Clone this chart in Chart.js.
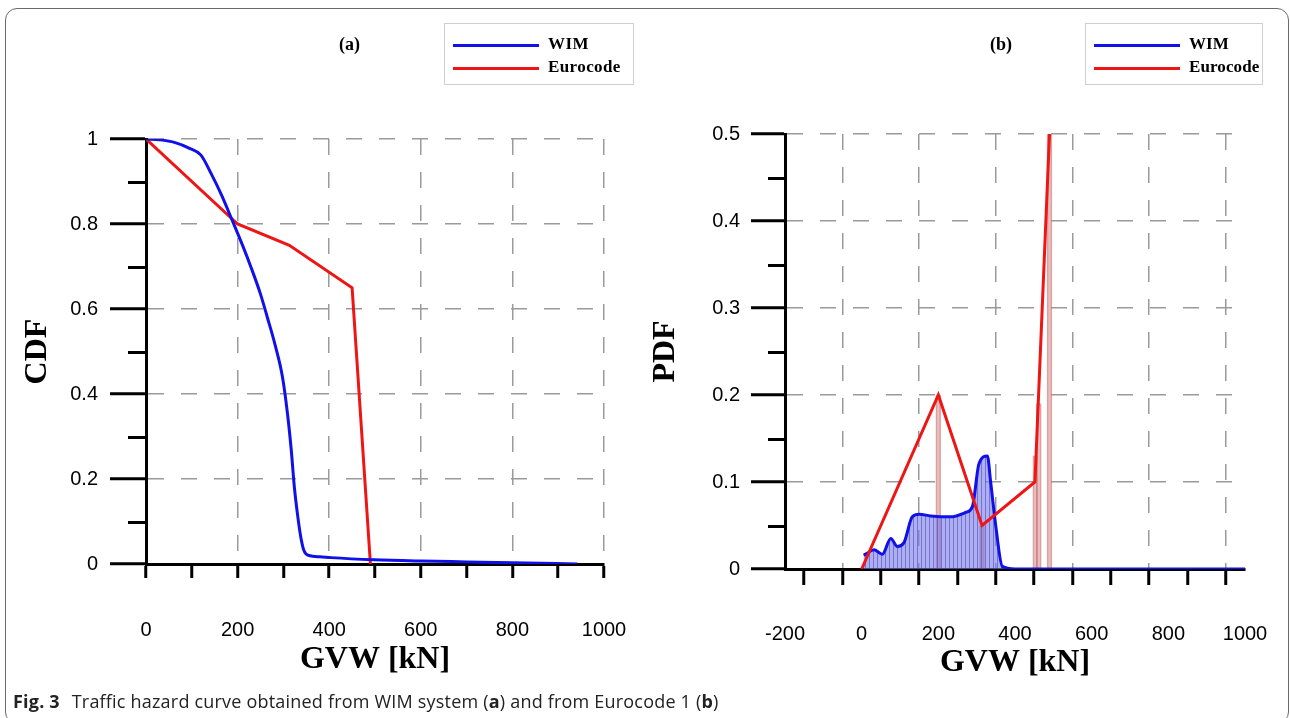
<!DOCTYPE html>
<html>
<head>
<meta charset="utf-8">
<script src="https://cdn.jsdelivr.net/npm/chart.js@4.4.1/dist/chart.umd.min.js"></script>
<style>
  html, body { margin: 0; padding: 0; background: #fff; }
  body { width: 1290px; height: 718px; position: relative; overflow: hidden; }
  .frame { position: absolute; left: 5px; top: 8px; width: 1284px; height: 716px;
           border: 1.5px solid #6a6a6a; border-radius: 12px; box-sizing: border-box; }
  canvas { position: absolute; top: 0; }
  .ptitle { position: absolute; top: 34px; font: bold 18px "Liberation Serif", serif; color: #000; }
  .legend { position: absolute; top: 23px; height: 62px; border: 1px solid #cfcfcf; box-sizing: border-box; background: #fff; }
  .legend .row { position: absolute; left: 8px; height: 20px; }
  .legend .ln { position: absolute; left: 0; top: 9px; width: 86px; height: 3px; }
  .legend .tx { position: absolute; left: 95px; top: -1px; font: bold 17px "Liberation Serif", serif; color: #000; white-space: nowrap; letter-spacing: 0.4px; }
  .legend.narrow .tx { letter-spacing: 0.1px; }
  .caption { position: absolute; left: 13px; top: 689px; font: 18px "Open Sans", sans-serif; color: #222; white-space: nowrap; letter-spacing: 0.2px; }
  .caption b { font-weight: bold; margin-right: 7px; }
</style>
</head>
<body>
<div class="frame"></div>
<canvas id="cdfChart" width="645" height="690" style="left:0"></canvas>
<canvas id="pdfChart" width="645" height="690" style="left:645px"></canvas>

<div class="ptitle" style="left:339px">(a)</div>
<div class="ptitle" style="left:990px">(b)</div>

<div class="legend" style="left:444px;width:190px">
  <div class="row" style="top:11px"><div class="ln" style="background:#1010e8"></div><div class="tx">WIM</div></div>
  <div class="row" style="top:34px"><div class="ln" style="background:#ee1515"></div><div class="tx">Eurocode</div></div>
</div>
<div class="legend narrow" style="left:1085px;width:178px">
  <div class="row" style="top:11px"><div class="ln" style="background:#1010e8"></div><div class="tx">WIM</div></div>
  <div class="row" style="top:34px"><div class="ln" style="background:#ee1515"></div><div class="tx">Eurocode</div></div>
</div>

<div class="caption"><b>Fig. 3</b> Traffic hazard curve obtained from WIM system (<b style="margin:0">a</b>) and from Eurocode 1 (<b style="margin:0">b</b>)</div>

<script>
// ---- data (a) CDF ----
var wimCdfX = [0, 30, 62, 95, 120, 142, 165, 185, 210, 229, 250, 265, 282, 298, 309, 317, 324, 331, 338, 345, 356, 380, 404, 498, 600, 700, 800, 942];
var wimCdfY = [1, 0.998, 0.992, 0.978, 0.962, 0.919, 0.868, 0.817, 0.752, 0.699, 0.635, 0.58, 0.515, 0.44, 0.353, 0.27, 0.18, 0.115, 0.063, 0.031, 0.02, 0.017, 0.015, 0.01, 0.007, 0.005, 0.003, 0];
var euroCdfX = [0, 200, 313, 450, 490];
var euroCdfY = [1, 0.8, 0.75, 0.65, 0];

// ---- data (b) PDF ----
var wimPdfX = [5, 10, 32, 54, 76, 93, 110, 132, 150, 180, 232, 271, 289, 306, 328, 336, 350, 367, 400, 600, 800, 1000];
var wimPdfY = [0.016, 0.017, 0.022, 0.017, 0.035, 0.026, 0.030, 0.060, 0.063, 0.061, 0.060, 0.065, 0.072, 0.121, 0.130, 0.102, 0.049, 0.003, 0, 0, 0, 0];
var euroPdfX = [0, 200, 314, 452, 490];
var euroPdfY = [0, 0.2, 0.05, 0.1, 0.5];
var euroBarX = [200, 314, 453, 462, 490];
var euroBarY = [0.2, 0.05, 0.13, 0.19, 0.5];

var cdfYTicks = ['0', '0.2', '0.4', '0.6', '0.8', '1'];
var gvwTicks = ['-200', '0', '200', '400', '600', '800', '1000'];

function pts(xs, ys) {
    return xs.map(function (x, i) { return { x: x, y: ys[i] }; });
}

var BLUE = '#1010e8';
var RED = '#ee1515';
var GRID = '#9a9a9a';
var DASH = [16, 17];
var tickFont = { family: '"Liberation Sans", Arial, sans-serif', size: 20 };
var titleFont = { family: '"Liberation Serif", "Times New Roman", serif', size: 32, weight: 'bold' };

// short minor tick marks on the y axis
var minorTicks = {
    id: 'minorTicks',
    afterDraw: function (chart, args, opts) {
        var s = chart.scales.y;
        var ctx = chart.ctx;
        ctx.save();
        ctx.strokeStyle = '#000';
        ctx.lineWidth = 3;
        s.ticks.forEach(function (t) {
            if (opts.isMinor(t.value)) {
                var py = Math.round(s.getPixelForValue(t.value)) + 0.5;
                ctx.beginPath();
                ctx.moveTo(s.right - opts.length, py);
                ctx.lineTo(s.right, py);
                ctx.stroke();
            }
        });
        ctx.restore();
    }
};

function xAxis(min, height, pad, tickLen, titlePad) {
    return {
        type: 'linear', min: min, max: 1000, offset: false,
        afterFit: function (s) { s.height = height; s.paddingLeft = 0; s.paddingRight = 0; },
        border: { display: true, color: '#000', width: 3, dash: DASH },
        grid: {
            color: function (c) {
                var v = c.tick ? c.tick.value : 0;
                return (v > min && Math.round(v / 100) % 2 === 0) ? GRID : 'rgba(0,0,0,0)';
            },
            lineWidth: 1.5, tickBorderDash: [],
            tickColor: '#000', tickWidth: 3, tickLength: tickLen
        },
        ticks: {
            stepSize: 100, padding: pad, color: '#000', font: tickFont, maxRotation: 0, autoSkip: false,
            callback: function (v) {
                var s = String(Math.round(v));
                return gvwTicks.indexOf(s) >= 0 ? s : '';
            }
        },
        title: { display: true, text: 'GVW [kN]', color: '#000', font: titleFont, padding: { top: 0, bottom: titlePad } }
    };
}

// ---- (a) CDF ----
var cdfIsMinor = function (v) { return Math.round(v * 10) % 2 !== 0; };
var cdfChart = new Chart(document.getElementById('cdfChart'), {
    type: 'line',
    data: {
        datasets: [{
            label: 'Eurocode',
            data: pts(euroCdfX, euroCdfY),
            borderColor: RED, borderWidth: 3, pointRadius: 0, tension: 0, fill: false, order: 2
        }, {
            label: 'WIM',
            data: pts(wimCdfX, wimCdfY),
            borderColor: BLUE, borderWidth: 3, pointRadius: 0, cubicInterpolationMode: 'monotone', fill: false, order: 1
        }]
    },
    options: {
        responsive: false, animation: false, devicePixelRatio: 1,
        layout: { padding: { left: 0, right: 41, top: 139, bottom: 0 } },
        plugins: {
            legend: { display: false }, tooltip: { enabled: false },
            minorTicks: { isMinor: cdfIsMinor, length: 18 }
        },
        scales: {
            x: xAxis(0, 126, 40, 14, 11),
            y: {
                type: 'linear', min: 0, max: 1,
                afterFit: function (s) { s.width = 146; s.paddingTop = 0; s.paddingBottom = 0; },
                border: { display: true, color: '#000', width: 3, dash: DASH },
                grid: {
                    color: function (c) {
                        var v = c.tick ? c.tick.value : 0;
                        return (v > 0.01 && !cdfIsMinor(v)) ? GRID : 'rgba(0,0,0,0)';
                    },
                    tickColor: function (c) {
                        return (c.tick && cdfIsMinor(c.tick.value)) ? 'rgba(0,0,0,0)' : '#000';
                    },
                    lineWidth: 1.5, tickBorderDash: [], tickWidth: 3, tickLength: 36
                },
                ticks: {
                    stepSize: 0.1, padding: 12, color: '#000', font: tickFont, autoSkip: false,
                    callback: function (v) {
                        var s = String(Math.round(v * 10) / 10);
                        return cdfYTicks.indexOf(s) >= 0 ? s : '';
                    }
                },
                title: { display: true, text: 'CDF', color: '#000', font: titleFont, padding: { top: 19, bottom: 0 } }
            }
        }
    },
    plugins: [minorTicks]
});

// ---- (b) PDF ----
function hatch() {
    var c = document.createElement('canvas');
    c.width = 4; c.height = 4;
    var g = c.getContext('2d');
    g.fillStyle = 'rgba(120,120,238,0.6)';
    g.fillRect(0, 0, 4, 4);
    g.fillStyle = 'rgba(70,70,170,0.55)';
    g.fillRect(0, 0, 1, 4);
    return g.createPattern(c, 'repeat');
}

var pdfIsMinor = function (v) { return Math.round(v * 20) % 2 !== 0; };
var pdfChart = new Chart(document.getElementById('pdfChart'), {
    type: 'line',
    data: {
        datasets: [{
            label: 'Eurocode',
            data: pts(euroPdfX, euroPdfY),
            borderColor: RED, borderWidth: 3, pointRadius: 0, tension: 0, fill: false, order: 1
        }, {
            type: 'bar',
            label: 'Eurocode bins',
            data: pts(euroBarX, euroBarY),
            backgroundColor: 'rgba(215,140,140,0.55)', borderColor: 'rgba(200,110,110,0.6)', borderWidth: 1,
            barThickness: 5, grouped: false, order: 3
        }, {
            label: 'WIM',
            data: pts(wimPdfX, wimPdfY),
            borderColor: BLUE, borderWidth: 3, pointRadius: 0, cubicInterpolationMode: 'monotone',
            fill: 'origin', backgroundColor: hatch(), order: 2
        }]
    },
    options: {
        responsive: false, animation: false, devicePixelRatio: 1,
        layout: { padding: { left: 0, right: 45, top: 134, bottom: 0 } },
        plugins: {
            legend: { display: false }, tooltip: { enabled: false },
            minorTicks: { isMinor: pdfIsMinor, length: 17 }
        },
        scales: {
            x: xAxis(-200, 121, 37, 16, 8),
            y: {
                type: 'linear', min: 0, max: 0.5,
                afterFit: function (s) { s.width = 140; s.paddingTop = 0; s.paddingBottom = 0; },
                border: { display: true, color: '#000', width: 3, dash: DASH },
                grid: {
                    color: function (c) {
                        var v = c.tick ? c.tick.value : 0;
                        return (v > 0.01 && !pdfIsMinor(v)) ? GRID : 'rgba(0,0,0,0)';
                    },
                    tickColor: function (c) {
                        return (c.tick && pdfIsMinor(c.tick.value)) ? 'rgba(0,0,0,0)' : '#000';
                    },
                    lineWidth: 1.5, tickBorderDash: [], tickWidth: 3, tickLength: 34
                },
                ticks: {
                    stepSize: 0.05, padding: 11, color: '#000', font: tickFont, autoSkip: false,
                    callback: function (v) {
                        return pdfIsMinor(v) ? '' : String(Math.round(v * 10) / 10);
                    }
                },
                title: { display: true, text: 'PDF', color: '#000', font: titleFont, padding: { top: 2, bottom: 0 } }
            }
        }
    },
    plugins: [minorTicks]
});
</script>
</body>
</html>
